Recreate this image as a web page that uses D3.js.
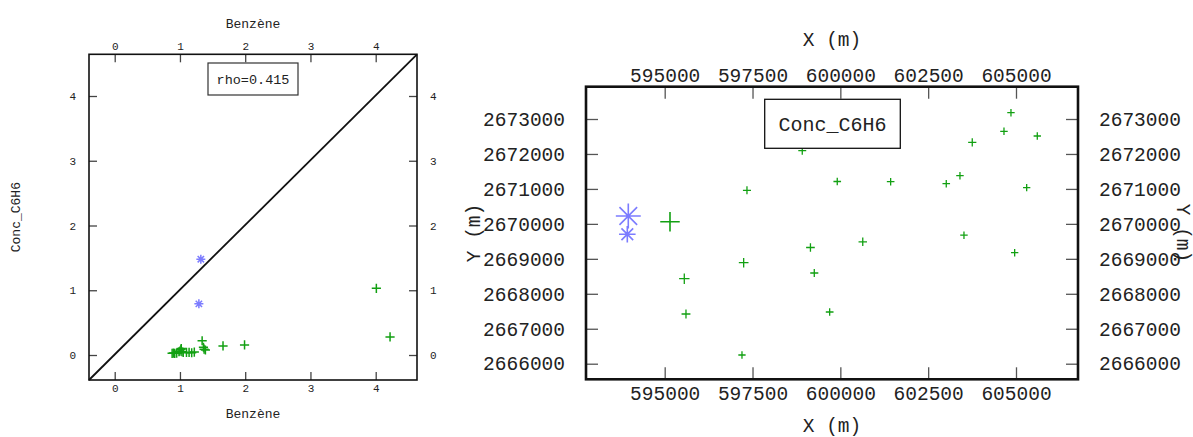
<!DOCTYPE html>
<html><head><meta charset="utf-8">
<script src="https://cdn.jsdelivr.net/npm/d3@7"></script>
<style>
html,body{margin:0;padding:0;background:#fff;}
svg text{fill:#222;}
</style></head>
<body>
<svg id="chart" width="1193" height="437"></svg>
<script>
// ---- DATA ----
const markerType = ["star","star","plus",
  "plus","plus","plus","plus","plus","plus","plus","plus","plus","plus","plus",
  "plus","plus","plus","plus","plus","plus","plus","plus","plus","plus"];
const stationX = [593964, 593936, 595151,
  595558, 597248, 595606, 599149, 600638, 603755, 599258, 597200, 597342, 598916, 599696,
  599912, 601432, 603015, 603405, 603519, 604658, 604857, 604962, 605304, 605606];
const stationY = [2670225, 2669702, 2670062,
  2668432, 2668889, 2667422, 2669324, 2669487, 2672333, 2668595, 2666249, 2670960, 2672093, 2667479,
  2671212, 2671206, 2671149, 2671378, 2669676, 2672648, 2673180, 2669175, 2671035, 2672514];
const benzene = [1.32, 1.29, 4.01,
  4.22, 1.34, 1.99, 1.66, 1.36, 1.02, 1.37, 0.88, 1.016, 1.39, 1.00,
  0.985, 1.03, 1.22, 1.05, 1.10, 1.14, 1.18, 0.95, 0.92, 0.90];
const concC6H6 = [1.48, 0.79, 1.03,
  0.28, 0.22, 0.155, 0.14, 0.12, 0.10, 0.09, 0.026, 0.088, 0.077, 0.06,
  0.05, 0.05, 0.046, 0.04, 0.04, 0.04, 0.035, 0.03, 0.026, 0.03];
const benzTicks = [0, 1, 2, 3, 4];
const mapXTicks = [595000, 597500, 600000, 602500, 605000];
const mapYTicks = [2666000, 2667000, 2668000, 2669000, 2670000, 2671000, 2672000, 2673000];
const rhoLabel = "rho=0.415";
const mapLegend = "Conc_C6H6";
const benzTitle = "Benzène";
const concTitle = "Conc_C6H6";
const mapXTitle = "X (m)";
const mapYTitle = "Y (m)";

// ---- STYLE ----
const GREEN = "#12a012", BLUE = "#7c7cff";
const MONO = "'Liberation Mono', 'DejaVu Sans Mono', monospace";
const svg = d3.select("#chart");

function starPath(cx, cy, r) {
  const d = r * Math.SQRT1_2;
  return `M${cx-r},${cy}L${cx+r},${cy}M${cx},${cy-r}L${cx},${cy+r}` +
         `M${cx-d},${cy-d}L${cx+d},${cy+d}M${cx-d},${cy+d}L${cx+d},${cy-d}`;
}
function plusPath(cx, cy, r) {
  return `M${cx-r},${cy}L${cx+r},${cy}M${cx},${cy-r}L${cx},${cy+r}`;
}
function styleAxis(g, fs, color) {
  g.select(".domain").remove();
  g.selectAll(".tick line").attr("stroke", color || "#444").attr("stroke-width", 1.3);
  g.selectAll(".tick text").attr("font-family", MONO).attr("font-size", fs).attr("fill", "#2a2a2a");
}

// ================= LEFT PANEL =================
const L = {x0: 89, x1: 417, y0: 54.3, y1: 380};
const lx = d3.scaleLinear().domain([-0.394, 4.633]).range([L.x0, L.x1]);
const ly = d3.scaleLinear().domain([-0.386, 4.644]).range([L.y1, L.y0]);
const left = svg.append("g");

left.append("g").attr("transform", `translate(0,${L.y1})`)
  .call(d3.axisBottom(lx).tickValues(benzTicks).tickSizeInner(-8).tickSizeOuter(0).tickPadding(4).tickFormat(d3.format("d")))
  .call(g => styleAxis(g, 11));
left.append("g").attr("transform", `translate(0,${L.y0})`)
  .call(d3.axisTop(lx).tickValues(benzTicks).tickSizeInner(-8).tickSizeOuter(0).tickPadding(4).tickFormat(d3.format("d")))
  .call(g => styleAxis(g, 11));
left.append("g").attr("transform", `translate(${L.x0},0)`)
  .call(d3.axisLeft(ly).tickValues(benzTicks).tickSizeInner(-8).tickSizeOuter(0).tickPadding(13).tickFormat(d3.format("d")))
  .call(g => styleAxis(g, 11));
left.append("g").attr("transform", `translate(${L.x1},0)`)
  .call(d3.axisRight(ly).tickValues(benzTicks).tickSizeInner(-8).tickSizeOuter(0).tickPadding(13).tickFormat(d3.format("d")))
  .call(g => styleAxis(g, 11));

left.append("rect").attr("x", L.x0).attr("y", L.y0).attr("width", L.x1 - L.x0).attr("height", L.y1 - L.y0)
  .attr("fill", "none").attr("stroke", "#111").attr("stroke-width", 1.6);

// diagonal y = x across the frame
left.append("line").attr("x1", lx(lx.domain()[0])).attr("y1", ly(ly.domain()[0]))
  .attr("x2", lx(lx.domain()[1])).attr("y2", ly(ly.domain()[1]))
  .attr("stroke", "#111").attr("stroke-width", 1.8);

// points
left.append("g").selectAll("path").data(d3.range(benzene.length)).join("path")
  .attr("d", i => markerType[i] === "star" ? starPath(lx(benzene[i]), ly(concC6H6[i]), 4.5) : plusPath(lx(benzene[i]), ly(concC6H6[i]), 4.6))
  .attr("stroke", i => markerType[i] === "star" ? BLUE : GREEN)
  .attr("stroke-width", 1.5).attr("fill", "none");

// legend box
left.append("rect").attr("x", 208).attr("y", 63).attr("width", 90).attr("height", 32)
  .attr("fill", "#fff").attr("stroke", "#333").attr("stroke-width", 1.2);
left.append("text").attr("x", 253).attr("y", 83.5).attr("text-anchor", "middle")
  .attr("font-family", MONO).attr("font-size", 13.5).text(rhoLabel);

// titles
left.append("text").attr("x", (L.x0 + L.x1) / 2).attr("y", 27.5).attr("text-anchor", "middle")
  .attr("font-family", MONO).attr("font-size", 13).text(benzTitle);
left.append("text").attr("x", (L.x0 + L.x1) / 2).attr("y", 417.5).attr("text-anchor", "middle")
  .attr("font-family", MONO).attr("font-size", 13).text(benzTitle);
left.append("text").attr("transform", `translate(20,${(L.y0 + L.y1) / 2}) rotate(-90)`).attr("text-anchor", "middle")
  .attr("font-family", MONO).attr("font-size", 13).text(concTitle);

// ================= RIGHT PANEL (map) =================
const R = {x0: 586, x1: 1078, y0: 86.7, y1: 379.3};
const mx = d3.scaleLinear().domain([592760, 606765]).range([R.x0, R.x1]);
const my = d3.scaleLinear().domain([2665554, 2673924]).range([R.y1, R.y0]);
const rScale = d3.scaleLinear().domain([0, 1.5]).range([3.5, 12.6]);
const map = svg.append("g");
const MFS = 19.5;

map.append("g").attr("transform", `translate(0,${R.y1})`)
  .call(d3.axisBottom(mx).tickValues(mapXTicks).tickSizeInner(-12).tickSizeOuter(0).tickPadding(6.5).tickFormat(d3.format("d")))
  .call(g => styleAxis(g, MFS, "#555"));
map.append("g").attr("transform", `translate(0,${R.y0})`)
  .call(d3.axisTop(mx).tickValues(mapXTicks).tickSizeInner(-12).tickSizeOuter(0).tickPadding(5).tickFormat(d3.format("d")))
  .call(g => styleAxis(g, MFS, "#555"));
map.append("g").attr("transform", `translate(${R.x0},0)`)
  .call(d3.axisLeft(my).tickValues(mapYTicks).tickSizeInner(-12).tickSizeOuter(0).tickPadding(21).tickFormat(d3.format("d")))
  .call(g => styleAxis(g, MFS, "#555"));
map.append("g").attr("transform", `translate(${R.x1},0)`)
  .call(d3.axisRight(my).tickValues(mapYTicks).tickSizeInner(-12).tickSizeOuter(0).tickPadding(21).tickFormat(d3.format("d")))
  .call(g => styleAxis(g, MFS, "#555"));

map.append("rect").attr("x", R.x0).attr("y", R.y0).attr("width", R.x1 - R.x0).attr("height", R.y1 - R.y0)
  .attr("fill", "none").attr("stroke", "#111").attr("stroke-width", 2.6);

map.append("g").selectAll("path").data(d3.range(stationX.length)).join("path")
  .attr("d", i => markerType[i] === "star"
      ? starPath(mx(stationX[i]), my(stationY[i]), rScale(concC6H6[i]))
      : plusPath(mx(stationX[i]), my(stationY[i]), rScale(concC6H6[i])))
  .attr("stroke", i => markerType[i] === "star" ? BLUE : GREEN)
  .attr("stroke-width", i => concC6H6[i] > 0.5 ? 1.6 : 1.3).attr("fill", "none");
map.append("g").selectAll("circle").data(d3.range(stationX.length).filter(i => markerType[i] === "star")).join("circle")
  .attr("cx", i => mx(stationX[i])).attr("cy", i => my(stationY[i])).attr("r", 1.8).attr("fill", BLUE);

// legend box
map.append("rect").attr("x", 764.7).attr("y", 99.3).attr("width", 135.6).attr("height", 49)
  .attr("fill", "#fff").attr("stroke", "#111").attr("stroke-width", 1.3);
map.append("text").attr("x", 832.5).attr("y", 130.5).attr("text-anchor", "middle")
  .attr("font-family", MONO).attr("font-size", 20).text(mapLegend);

// titles
map.append("text").attr("x", (R.x0 + R.x1) / 2).attr("y", 45.5).attr("text-anchor", "middle")
  .attr("font-family", MONO).attr("font-size", MFS).text(mapXTitle);
map.append("text").attr("x", (R.x0 + R.x1) / 2).attr("y", 432).attr("text-anchor", "middle")
  .attr("font-family", MONO).attr("font-size", MFS).text(mapXTitle);
map.append("text").attr("transform", `translate(480,${(R.y0 + R.y1) / 2}) rotate(-90)`).attr("text-anchor", "middle")
  .attr("font-family", MONO).attr("font-size", MFS).text(mapYTitle);
map.append("text").attr("transform", `translate(1177,${(R.y0 + R.y1) / 2}) rotate(90)`).attr("text-anchor", "middle")
  .attr("font-family", MONO).attr("font-size", MFS).text(mapYTitle);
</script>
</body></html>
